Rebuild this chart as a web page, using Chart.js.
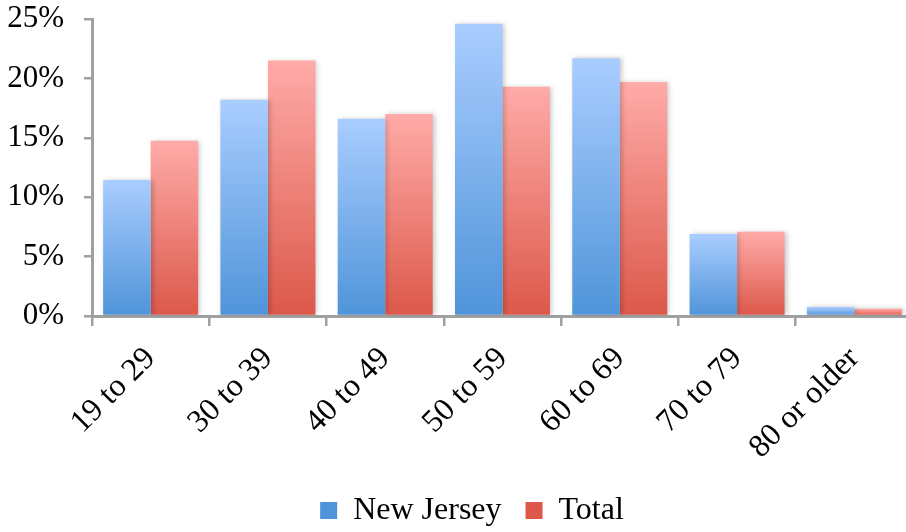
<!DOCTYPE html>
<html>
<head>
<meta charset="utf-8">
<script src="https://cdn.jsdelivr.net/npm/chart.js@4/dist/chart.umd.min.js"></script>
<style>
  html, body { margin: 0; padding: 0; background: #fff; overflow: hidden; }
  #wrap { width: 906px; height: 532px; overflow: hidden; position: relative; }
  #box { width: 944px; height: 532px; position: absolute; left: 0; top: 0; }
</style>
</head>
<body>
<div id="wrap"><div id="box"><canvas id="c"></canvas></div></div>
<script>
const categories = ["19 to 29", "30 to 39", "40 to 49", "50 to 59", "60 to 69", "70 to 79", "80 or older"];
const newJersey = [11.45, 18.2, 16.6, 24.6, 21.7, 6.9, 0.75];
const total = [14.75, 21.5, 17.0, 19.3, 19.7, 7.1, 0.6];
const seriesNames = ["New Jersey", "Total"];
const yTicks = [0, 5, 10, 15, 20, 25];

const FONT = "'Liberation Serif', 'Times New Roman', serif";
const AXIS = "#a0a0a0";

function gradFill(top, bottom, solid) {
  return function (ctx) {
    const chart = ctx.chart;
    if (!chart.chartArea || ctx.raw === undefined || ctx.type !== 'data') return solid;
    const y = chart.scales.y;
    const yt = y.getPixelForValue(ctx.raw);
    const yb = y.getPixelForValue(0);
    if (!isFinite(yt) || yb - yt < 1) return solid;
    const g = chart.ctx.createLinearGradient(0, yt, 0, yb);
    g.addColorStop(0, top);
    g.addColorStop(1, bottom);
    return g;
  };
}

const shadowPlugin = {
  id: 'shadow',
  beforeDatasetsDraw(chart) {
    const c = chart.ctx;
    c.save();
    c.shadowColor = 'rgba(0,0,0,0.22)';
    c.shadowBlur = 5;
    c.shadowOffsetX = 2;
    c.shadowOffsetY = 0;
  },
  afterDatasetsDraw(chart) { chart.ctx.restore(); }
};

// centre the legend over the visible page width plus the clipped plot tail
const legendShift = {
  id: 'legendShift',
  afterLayout(chart) {
    if (chart.legend) { chart.legend.left += 31; chart.legend.width -= 31; }
  }
};

const chart = new Chart(document.getElementById('c'), {
  type: 'bar',
  data: {
    labels: categories,
    datasets: [
      { label: seriesNames[0], data: newJersey,
        backgroundColor: gradFill('#aacdff', '#4f94d9', '#7eb0ec'),
        barPercentage: 1.0, categoryPercentage: 0.81 },
      { label: seriesNames[1], data: total,
        backgroundColor: gradFill('#ffaba8', '#dc584a', '#ee8279'),
        barPercentage: 1.0, categoryPercentage: 0.81 }
    ]
  },
  plugins: [shadowPlugin, legendShift],
  options: {
    responsive: true,
    maintainAspectRatio: false,
    animation: false,
    layout: { padding: { top: 19, right: 31, left: 0, bottom: -4.5 } },
    plugins: {
      tooltip: { enabled: false },
      legend: {
        position: 'bottom',
        labels: {
          color: '#000',
          font: { family: FONT, size: 32 },
          boxWidth: 17,
          boxHeight: 17,
          padding: 24
        }
      }
    },
    scales: {
      x: {
        grid: { display: true, drawOnChartArea: false, drawTicks: true, tickLength: 10, color: AXIS, lineWidth: 2.5, offset: true },
        border: { display: true, color: AXIS, width: 3 },
        ticks: { color: '#000', font: { family: FONT, size: 32 }, minRotation: 45, maxRotation: 45, padding: 14, autoSkip: false },
        afterFit(s) { s.height = 154.5; }
      },
      y: {
        min: 0, max: 25,
        afterBuildTicks(s) { s.ticks = yTicks.map(v => ({ value: v })); },
        grid: { display: true, drawOnChartArea: false, drawTicks: true, tickLength: 8, color: AXIS, lineWidth: 2.5 },
        border: { display: true, color: AXIS, width: 3 },
        ticks: { color: '#000', font: { family: FONT, size: 31 }, padding: 20, callback: v => v + '%' },
        afterFit(s) { s.width = 92; s.paddingTop = 0; s.paddingBottom = 0; }
      }
    }
  }
});
</script>
</body>
</html>
